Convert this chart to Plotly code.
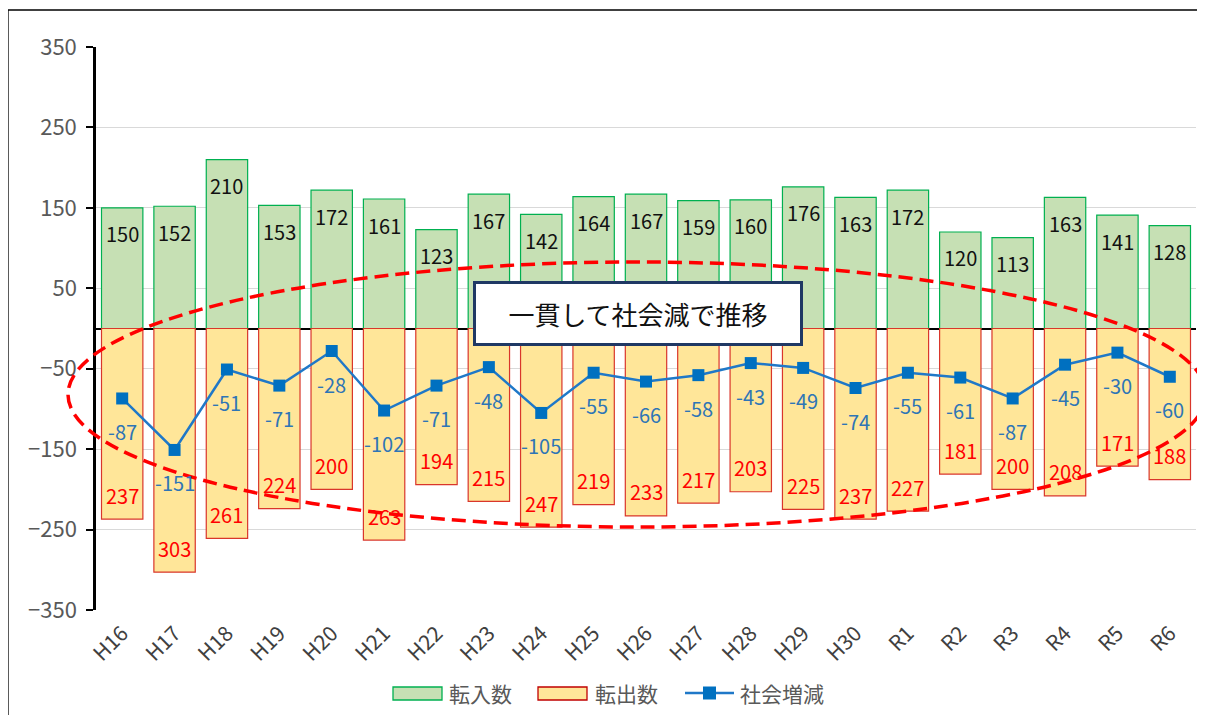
import plotly.graph_objects as go

categories = ["H16","H17","H18","H19","H20","H21","H22","H23","H24","H25","H26",
              "H27","H28","H29","H30","R1","R2","R3","R4","R5","R6"]
tennyu = [150,152,210,153,172,161,123,167,142,164,167,159,160,176,163,172,120,113,163,141,128]
tenshutsu = [237,303,261,224,200,263,194,215,247,219,233,217,203,225,237,227,181,200,208,171,188]
shakai = [-87,-151,-51,-71,-28,-102,-71,-48,-105,-55,-66,-58,-43,-49,-74,-55,-61,-87,-45,-30,-60]
y_ticks = [350,250,150,50,-50,-150,-250,-350]
legend_names = ["転入数", "転出数", "社会増減"]

FONT = "Noto Sans CJK JP"
OFF = 8  # page body margin in the browser
W, H = 1205, 715
L, R, T, B = 88, 17, 39, 113
PW, PH = W - L - R, H - T - B

GREEN_FILL, GREEN_LINE = "#C6E0B4", "#00B050"
YEL_FILL, YEL_LINE = "#FFE699", "#D9362B"
BLUE = "#0070C0"

def px(sx):
    return (sx - OFF - L) / PW

def py(sy):
    return (H - B - (sy - OFF)) / PH

fig = go.Figure()
fig.add_trace(go.Bar(
    x=categories, y=tennyu, name=legend_names[0], showlegend=False,
    marker=dict(color=GREEN_FILL, line=dict(color=GREEN_LINE, width=1.2)),
))
fig.add_trace(go.Bar(
    x=categories, y=[-v for v in tenshutsu], name=legend_names[1], showlegend=False,
    marker=dict(color=YEL_FILL, line=dict(color=YEL_LINE, width=1.2)),
))
fig.add_trace(go.Scatter(
    x=categories, y=shakai, name=legend_names[2], mode="lines+markers", showlegend=False,
    line=dict(color="#1F78C8", width=2.5),
    marker=dict(symbol="square", size=12, color=BLUE),
))

annotations = []
for c, v in zip(categories, tennyu):
    annotations.append(dict(x=c, y=v, text=str(v), showarrow=False, yshift=-26,
                            font=dict(family=FONT, size=20, color="#111111")))
for c, v in zip(categories, tenshutsu):
    annotations.append(dict(x=c, y=-v, text=str(v), showarrow=False, yshift=24,
                            font=dict(family=FONT, size=20, color="#FF0000")))
for c, v in zip(categories, shakai):
    annotations.append(dict(x=c, y=v, text=str(v), showarrow=False, yshift=-33,
                            font=dict(family=FONT, size=20, color="#2E75B6")))

# callout box
annotations.append(dict(
    xref="paper", yref="paper", x=px(638), y=py(313),
    text="一貫して社会減で推移", showarrow=False,
    font=dict(family=FONT, size=26, color="#111111"),
    bgcolor="white", bordercolor="#1F3864", borderwidth=3,
    width=324, height=59, borderpad=0,
))

# custom legend texts
leg_y = py(693)
for xpos, name in zip([447, 593, 738], legend_names):
    annotations.append(dict(xref="paper", yref="paper", x=px(xpos), y=leg_y,
                            xanchor="left", yanchor="middle", text=name, showarrow=False,
                            font=dict(family=FONT, size=21, color="#595959")))

shapes = [
    dict(type="circle", xref="paper", yref="paper",
         x0=px(68), x1=px(1206), y0=py(527), y1=py(262),
         line=dict(color="#FF0000", width=3.5, dash="14px,7px"), layer="above"),
    # outer frame (top and left)
    dict(type="line", xref="paper", yref="paper", x0=px(8), x1=px(1230), y0=py(10), y1=py(10),
         line=dict(color="#000000", width=1.3)),
    dict(type="line", xref="paper", yref="paper", x0=px(8), x1=px(8), y0=py(10), y1=py(740),
         line=dict(color="#000000", width=1.3)),
    # legend swatches
    dict(type="rect", xref="paper", yref="paper", x0=px(393), x1=px(442), y0=py(700), y1=py(687),
         fillcolor=GREEN_FILL, line=dict(color=GREEN_LINE, width=1.3)),
    dict(type="rect", xref="paper", yref="paper", x0=px(538), x1=px(587), y0=py(700), y1=py(687),
         fillcolor=YEL_FILL, line=dict(color="#C00000", width=1.3)),
    dict(type="line", xref="paper", yref="paper", x0=px(685), x1=px(734), y0=py(693), y1=py(693),
         line=dict(color="#1F78C8", width=2.5)),
    dict(type="rect", xref="paper", yref="paper", x0=px(703), x1=px(716), y0=py(699.5), y1=py(686.5),
         fillcolor=BLUE, line=dict(color=BLUE, width=0)),
]

fig.update_layout(
    width=W, height=H,
    margin=dict(l=L, r=R, t=T, b=B),
    paper_bgcolor="white", plot_bgcolor="white",
    barmode="relative", bargap=0.21,
    font=dict(family=FONT, color="#595959", size=20),
    annotations=annotations, shapes=shapes,
    showlegend=False,
    xaxis=dict(range=[-0.5, len(categories) - 0.5], automargin=False,
               tickangle=-45, tickfont=dict(family=FONT, size=21, color="#404040"),
               ticklabelstandoff=6,
               showline=False, ticks="", showgrid=False),
    yaxis=dict(range=[-350, 350], tickvals=y_ticks, automargin=False,
               ticktext=[str(t).replace("-", "−") for t in y_ticks],
               showgrid=True, gridcolor="#D9D9D9", gridwidth=1,
               zeroline=True, zerolinecolor="#000000", zerolinewidth=1.5,
               showline=True, linecolor="#000000", linewidth=2.5,
               ticks="outside", ticklen=7, tickcolor="#000000", tickwidth=2,
               ticklabelstandoff=5,
               tickfont=dict(family=FONT, size=22, color="#595959")),
)

fig.write_html("out.html")
